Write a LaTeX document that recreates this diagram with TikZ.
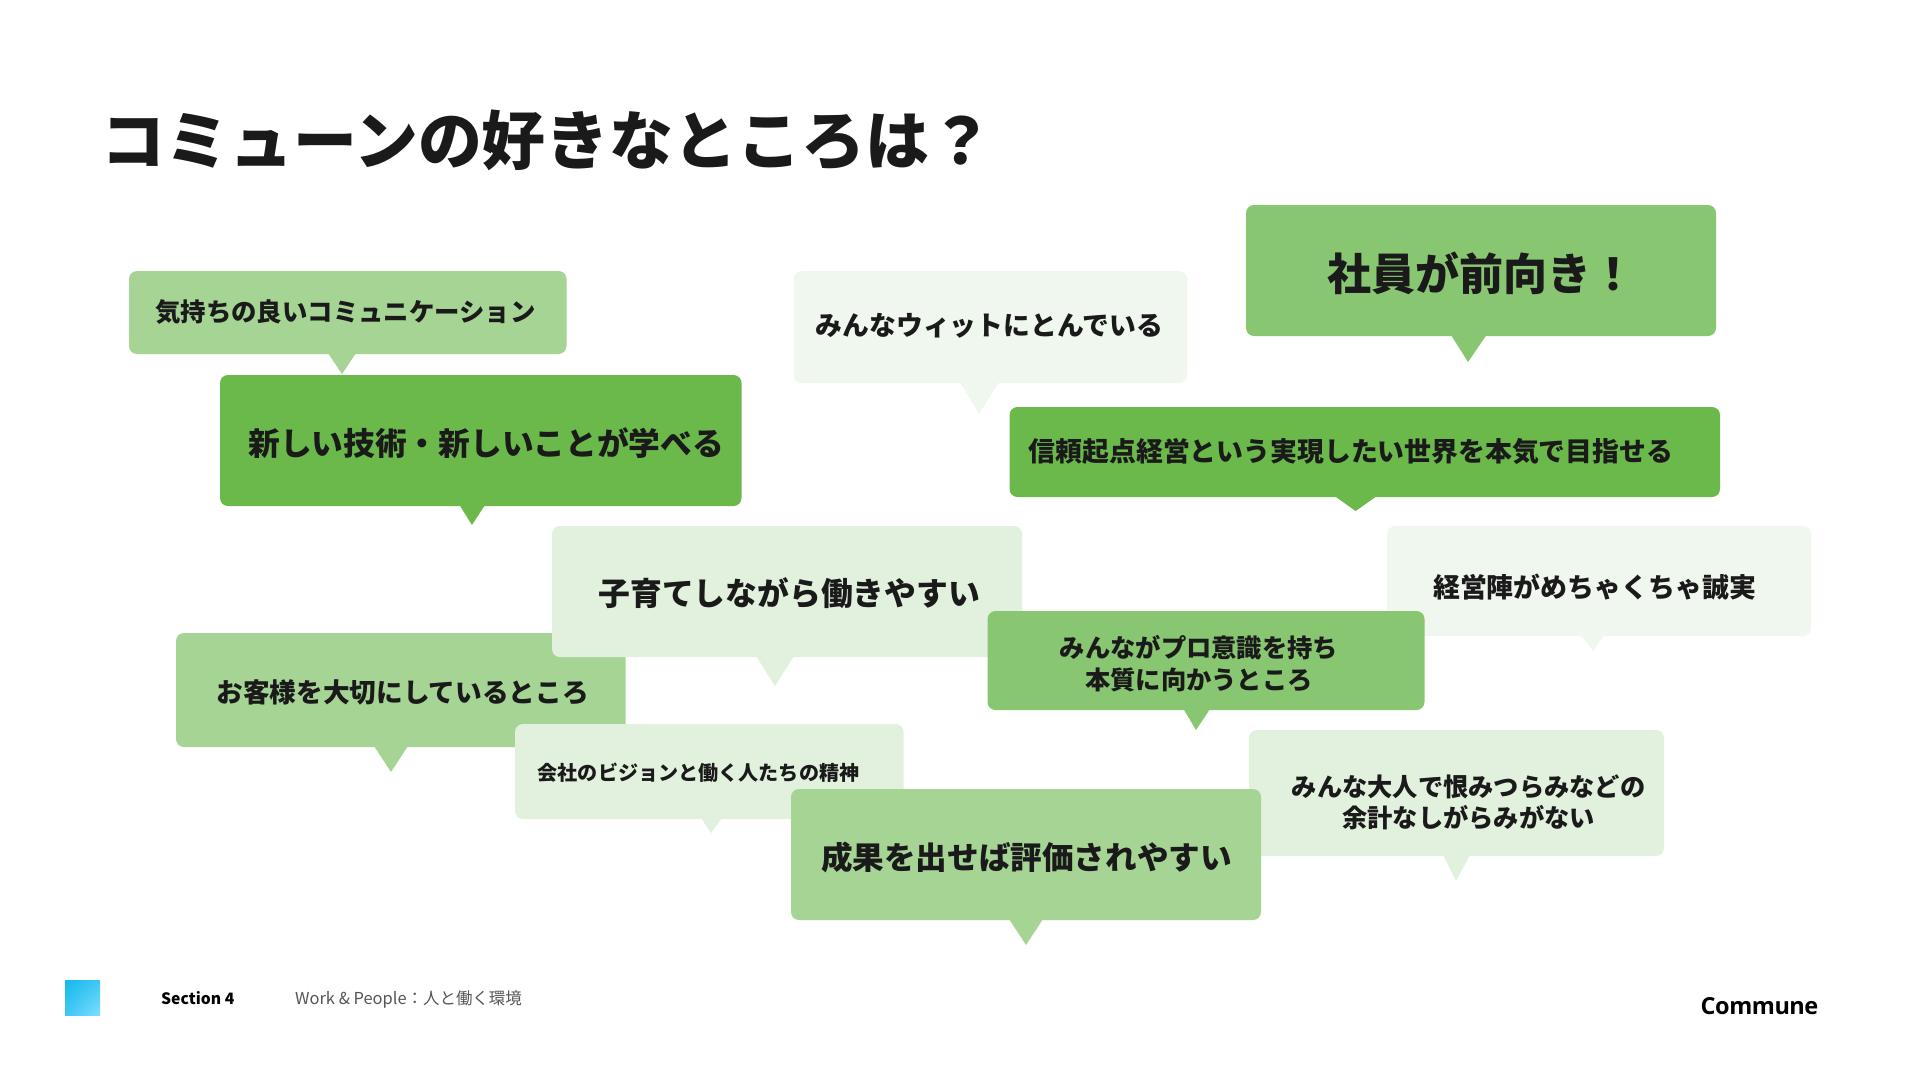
\documentclass[tikz,border=0pt]{standalone}
\usepackage{fontspec}
\usetikzlibrary{shadings}
\setmainfont{Noto Sans CJK JP}
\newfontfamily\jp{Noto Sans CJK JP}
\newfontfamily\logofont[LetterSpace=-2]{Open Sans}
\definecolor{g1}{HTML}{6BB84B}
\definecolor{g2}{HTML}{88C671}
\definecolor{g3}{HTML}{A6D495}
\definecolor{g4}{HTML}{E2F1DD}
\definecolor{g5}{HTML}{F0F7EE}
\definecolor{ink}{HTML}{1A1A1A}
\definecolor{grey}{HTML}{555555}
\definecolor{sqa}{HTML}{14B9EC}
\definecolor{sqb}{HTML}{7FDDFF}
\newcommand{\fsz}[1]{\fontsize{#1}{#1}\selectfont}
\newcommand{\bub}[6]{\fill[#2,rounded corners=8pt] (#3,#4) rectangle (#5,#6);}
\newcommand{\tipof}[6]{\fill[#1] (#3,#2) -- (#4,#2) -- (#5,#6) -- cycle;}
\tikzset{said/.style={text=ink,font=\jp\bfseries,align=center,inner sep=0pt}}
\begin{document}
\begin{tikzpicture}[x=1pt,y=-1pt]
\useasboundingbox (0,0) rectangle (1920,1080);
\fill[white] (0,0) rectangle (1920,1080);
\node[said,anchor=west] (title) at (101.5,140) {\fsz{63.9}コミューンの好きなところは？};
% a
\bub{a}{g3}{129}{271}{566.5}{354}\tipof{g3}{353}{328}{356}{342}{374}
\node[said] (ta) at (345.5,312) {\fsz{25.4}気持ちの良いコミュニケーション};
% b
\bub{b}{g1}{220}{375}{741.5}{506}\tipof{g1}{505}{459.5}{485}{472}{525}
\node[said] (tb) at (486.2,443) {\fsz{31.7}新しい技術・新しいことが学べる};
% c
\bub{c}{g5}{794}{271}{1187}{383}\tipof{g5}{382}{960}{999}{979}{414}
\node[said] (tc) at (989.5,326) {\fsz{26.8}みんなウィットにとんでいる};
% d
\bub{d}{g2}{1246}{205}{1716}{336}\tipof{g2}{335}{1451}{1486.5}{1468}{362}
\node[said] (td) at (1481.5,273) {\fsz{44}社員が前向き！};
% e
\bub{e}{g1}{1009.5}{407}{1720}{497}\tipof{g1}{496}{1334.5}{1377}{1355.6}{511}
\node[said] (te) at (1351,451) {\fsz{26.85}信頼起点経営という実現したい世界を本気で目指せる};
% f
\bub{f}{g5}{1387}{526}{1811}{636}\tipof{g5}{635}{1581}{1604}{1593}{651}
\node[said] (tf) at (1594.5,587) {\fsz{26.9}経営陣がめちゃくちゃ誠実};
% g
\bub{g}{g3}{176}{633}{625.6}{747}\tipof{g3}{746}{374}{408}{391}{772}
\node[said] (tg) at (402.7,692) {\fsz{26.65}お客様を大切にしているところ};
% h
\bub{h}{g4}{552}{526}{1022}{657}\tipof{g4}{656}{756}{794}{775}{686}
\node[said] (th) at (789.3,593.5) {\fsz{31.8}子育てしながら働きやすい};
% i
\bub{i}{g2}{987.5}{611}{1424.5}{710}\tipof{g2}{709}{1183.5}{1210}{1196}{730}
\node[said,font=\jp\bfseries\fontsize{25.3}{32}\selectfont] (ti) at (1199,664) {みんながプロ意識を持ち\\本質に向かうところ};
% j
\bub{j}{g4}{515}{724}{903.6}{819}\tipof{g4}{818}{701}{722}{711}{833}
\node[said] (tj) at (698.5,773) {\fsz{20.1}会社のビジョンと働く人たちの精神};
% k
\bub{k}{g4}{1249}{730}{1664}{856}\tipof{g4}{855}{1443}{1470}{1456}{881}
\node[said,font=\jp\bfseries\fontsize{25.25}{31}\selectfont] (tk) at (1468.7,802) {みんな大人で恨みつらみなどの\\余計なしがらみがない};
% l
\bub{l}{g3}{791}{789}{1261}{920}\tipof{g3}{919}{1009}{1043}{1026}{945}
\node[said] (tl) at (1026.5,857) {\fsz{31.6}成果を出せば評価されやすい};
% footer
\shade[upper left=sqa,lower right=sqb,upper right=sqa!60!sqb,lower left=sqa!60!sqb] (65,980) rectangle (100,1015);
\node[anchor=west,inner sep=0pt,text=black,font=\jp\bfseries] (sec) at (161,998.5) {\fsz{15.7}Section 4};
\node[anchor=west,inner sep=0pt,text=grey,font=\jp] (wp) at (295,999) {\fsz{16.45}Work \& People：人と働く環境};
\node[inner sep=0pt,text=black,font=\logofont\bfseries] (logo) at (1759.5,1006) {\fsz{23.5}Commune};
\end{tikzpicture}
\end{document}
